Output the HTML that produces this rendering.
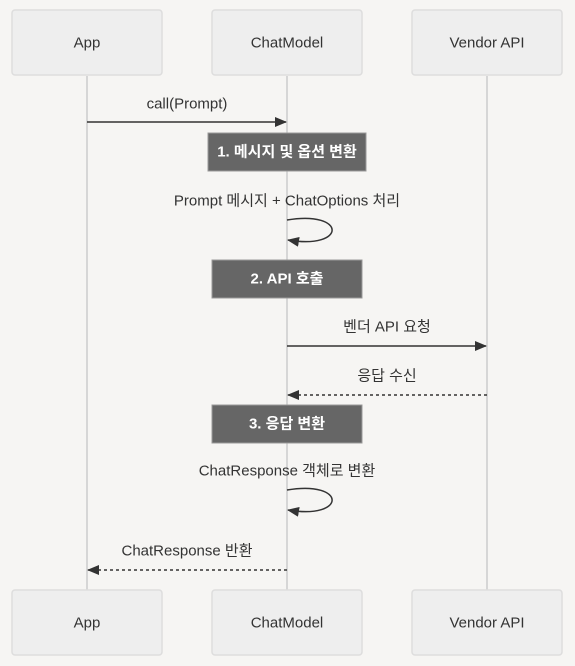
<!DOCTYPE html>
<html><head><meta charset="utf-8"><style>
html,body{margin:0;padding:0;background:#f6f5f3;}
svg{display:block;font-family:"Liberation Sans","Noto Sans CJK KR",sans-serif;}
</style></head><body>
<svg width="575" height="666" viewBox="0 0 575 666" xmlns="http://www.w3.org/2000/svg">
<defs>
<marker id="ah" markerWidth="12" markerHeight="10" refX="11" refY="5" orient="auto" markerUnits="userSpaceOnUse">
<path d="M0,0 L12,5 L0,10 z" fill="#333"/></marker>
</defs>
<rect width="575" height="666" fill="#f6f5f3"/>
<g stroke="#ccc" stroke-width="1.5">
<line x1="87" y1="76" x2="87" y2="590"/>
<line x1="287" y1="76" x2="287" y2="590"/>
<line x1="487" y1="76" x2="487" y2="590"/>
</g>
<g fill="#eeeeee" stroke="#dddddd" stroke-width="1.5">
<rect x="12" y="10" width="150" height="65" rx="3"/>
<rect x="212" y="10" width="150" height="65" rx="3"/>
<rect x="412" y="10" width="150" height="65" rx="3"/>
<rect x="12" y="590" width="150" height="65" rx="3"/>
<rect x="212" y="590" width="150" height="65" rx="3"/>
<rect x="412" y="590" width="150" height="65" rx="3"/>
</g>
<g font-size="15" fill="#333" text-anchor="middle" dominant-baseline="central">
<text x="87" y="43">App</text>
<text x="287" y="43">ChatModel</text>
<text x="487" y="43">Vendor API</text>
<text x="87" y="623">App</text>
<text x="287" y="623">ChatModel</text>
<text x="487" y="623">Vendor API</text>
</g>
<g fill="#666" stroke="#999" stroke-width="1">
<rect x="208" y="133" width="158" height="38"/>
<rect x="212" y="260" width="150" height="38"/>
<rect x="212" y="405" width="150" height="38"/>
</g>
<g font-size="15" font-weight="bold" fill="#fff" text-anchor="middle" dominant-baseline="central">
<text x="287" y="152">1. 메시지 및 옵션 변환</text>
<text x="287" y="279">2. API 호출</text>
<text x="287" y="424">3. 응답 변환</text>
</g>
<g font-size="15" fill="#333" text-anchor="middle" dominant-baseline="central">
<text x="187" y="104">call(Prompt)</text>
<text x="287" y="201">Prompt 메시지 + ChatOptions 처리</text>
<text x="387" y="327">벤더 API 요청</text>
<text x="387" y="376">응답 수신</text>
<text x="287" y="471">ChatResponse 객체로 변환</text>
<text x="187" y="551">ChatResponse 반환</text>
</g>
<g stroke="#333" stroke-width="1.5" fill="none">
<line x1="87" y1="122" x2="286" y2="122" marker-end="url(#ah)"/>
<path d="M287,220 C347,210 347,250 288,240" marker-end="url(#ah)"/>
<line x1="287" y1="346" x2="486" y2="346" marker-end="url(#ah)"/>
<line x1="487" y1="395" x2="288" y2="395" stroke-dasharray="3,3" marker-end="url(#ah)"/>
<path d="M287,490 C347,480 347,520 288,510" marker-end="url(#ah)"/>
<line x1="287" y1="570" x2="88" y2="570" stroke-dasharray="3,3" marker-end="url(#ah)"/>
</g>
</svg>
</body></html>
